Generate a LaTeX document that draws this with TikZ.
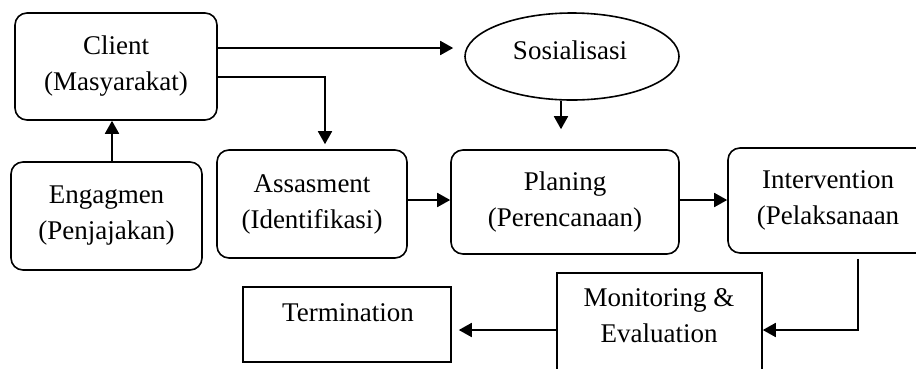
\documentclass[tikz,border=0pt]{standalone}
\usepackage{fontspec}
\setmainfont{Liberation Serif}
\usetikzlibrary{arrows.meta,shapes.geometric}
\begin{document}
\begin{tikzpicture}[x=1pt,y=-1pt,
  every node/.style={font=\fontsize{27}{36}\selectfont, align=center, inner sep=0pt},
  rbox/.style={draw, line width=1.6pt, rounded corners=12pt},
  sbox/.style={draw, line width=1.6pt},
  arr/.style={line width=1.8pt, -{Triangle[length=13pt,width=14pt]}}]
\clip (0,0) rectangle (916,368);
\useasboundingbox (0,0) rectangle (916,368);
\fill[white] (0,0) rectangle (916,368);
\node[rbox, minimum width=202pt, minimum height=107pt] (client) at (116,66.5) {Client\\(Masyarakat)};
\node[rbox, minimum width=191pt, minimum height=108pt] (engag) at (106.5,216) {Engagmen\\(Penjajakan)};
\node[rbox, minimum width=190pt, minimum height=108pt] (assas) at (312,204) {Assasment\\(Identifikasi)};
\node[rbox, minimum width=228pt, minimum height=104pt] (plan) at (565,202) {Planing\\(Perencanaan)};
\node[rbox, minimum width=200pt, minimum height=105pt] (interv) at (828,200.5) {Intervention\\(Pelaksanaan};
\node[draw, ellipse, line width=1.6pt, minimum width=214pt, minimum height=87pt] (sos) at (572,56.5) {};
\node (sostext) at (570,50) {Sosialisasi};
\node[sbox, minimum width=205pt, minimum height=100pt, anchor=north] (mon) at (659.5,272) {};
\node (montext) at (659,316) {Monitoring \&\\Evaluation};
\node[sbox, minimum width=208pt, minimum height=75pt] (term) at (347,324.5) {};
\node (termtext) at (348,313) {Termination};
% connectors
\draw[arr] (client.east |- 0,48) -- ([xshift=-11pt]sos.west |- 0,48);
\draw[arr] (client.east |- 0,77) -| ([yshift=5pt]assas.north -| 325,0);
\draw[arr] (engag.north -| 112,0) -- (client.south -| 112,0);
\draw[arr] (assas.east |- 0,200) -- (plan.west |- 0,200);
\draw[arr] (sos.south -| 561,0) -- ([yshift=20pt]plan.north -| 561,0);
\draw[arr] (plan.east |- 0,200) -- (interv.west |- 0,200);
\draw[arr] ([yshift=-5pt]interv.south -| 858,0) |- (mon.east |- 0,330);
\draw[arr] (mon.west |- 0,330) -- ([xshift=7pt]term.east |- 0,330);
\end{tikzpicture}
\end{document}
